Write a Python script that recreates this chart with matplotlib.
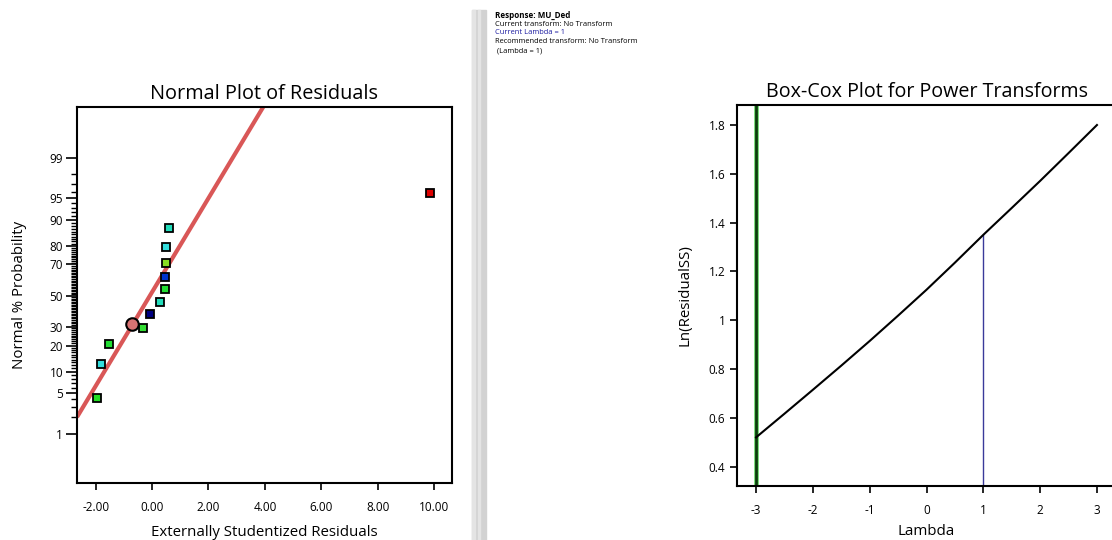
import numpy as np
import matplotlib
matplotlib.use("Agg")
import matplotlib.pyplot as plt
from matplotlib.patches import Rectangle
from statistics import NormalDist

plt.rcParams['font.family'] = ['Open Sans', 'DejaVu Sans']
plt.rcParams['axes.unicode_minus'] = False

# normal plot of residuals
resid = [-1.95, -1.81, -1.51, -0.33, -0.08, 0.29, 0.45, 0.45, 0.50, 0.48, 0.60, 9.86]
prob = [4.2, 12.6, 20.9, 29.3, 37.7, 45.6, 54.3, 62.6, 70.8, 79.3, 87.4, 95.8]
colors = ['#22dd22', '#33dddd', '#22dd33', '#33dd33', '#000080', '#22ddbb',
          '#22dd33', '#0033cc', '#88dd22', '#33dddd', '#22ddbb', '#dd0000']
circle_x, circle_p = -0.70, 31.7
line_mu, line_sigma = -0.074, 1.262
prob_ticks = [1, 5, 10, 20, 30, 50, 70, 80, 90, 95, 99]
resid_ticks = [-2, 0, 2, 4, 6, 8, 10]

# box-cox
lam = [-3, -2.5, -2, -1.5, -1, -0.5, 0, 0.5, 1, 1.5, 2, 2.5, 3]
ln_ss = [0.52, 0.617, 0.715, 0.814, 0.915, 1.019, 1.125, 1.236, 1.35, 1.46, 1.571, 1.685, 1.80]
lam_current = 1
lam_low = -3

info_lines = ["Response: MU_Ded", "Current transform: No Transform", "Current Lambda = 1",
              "Recommended transform: No Transform", " (Lambda = 1)"]


def z(p):
    return NormalDist().inv_cdf(p / 100.0)


W, H = 1112, 540
fig = plt.figure(figsize=(W / 100, H / 100), dpi=100)

# ---- left panel
ax = fig.add_axes([77 / W, 1 - 483 / H, (452 - 77) / W, (483 - 107) / H])
xl = (-2.66, 10.63)
ax.set_xlim(*xl)
ax.set_ylim(-3.16, 3.18)
xs = np.array(xl)
ax.plot(xs, (xs - line_mu) / line_sigma, color='#d95757', lw=3.0, zorder=2, solid_capstyle='butt')
for x, p, c in zip(resid, prob, colors):
    ax.plot(x, z(p), 's', ms=5.5, mfc=c, mec='black', mew=1.3, zorder=3)
ax.plot(circle_x, z(circle_p), 'o', ms=9, mfc='#d87272', mec='black', mew=1.5, zorder=4)

ax.set_yticks([z(p) for p in prob_ticks])
ax.set_yticklabels([str(p) for p in prob_ticks])
ax.set_yticks([z(p) for p in range(1, 100) if p not in prob_ticks], minor=True)
ax.set_xticks(resid_ticks)
ax.set_xticklabels(['%.2f' % v for v in resid_ticks])
ax.tick_params(axis='y', which='major', direction='out', length=8, width=1.2, labelsize=8.5, pad=2)
ax.tick_params(axis='y', which='minor', direction='out', length=4, width=1.0)
ax.tick_params(axis='x', direction='out', length=5, width=1.2, labelsize=8.5, pad=8)
for s in ax.spines.values():
    s.set_linewidth(1.5)
ax.set_title('Normal Plot of Residuals', fontsize=14.3, pad=6)
ax.set_xlabel('Externally Studentized Residuals', fontsize=10.8, labelpad=8)
ax.set_ylabel('Normal % Probability', fontsize=10.8, labelpad=16)

# ---- right panel
bx = fig.add_axes([737.3 / W, 1 - 485.7 / H, (1115.7 - 737.3) / W, (485.7 - 105) / H])
bx.set_xlim(-3.33, 3.33)
bx.set_ylim(0.322, 1.882)
bx.axvline(lam_low, color='#7fdc7f', lw=3.6, zorder=1)
bx.axvline(lam_low, color='#0b3d0b', lw=2.0, zorder=2)
bx.plot([lam_current, lam_current], [0.322, ln_ss[lam.index(lam_current)]], color='#3a3a9a', lw=1.0)
bx.plot(lam, ln_ss, color='black', lw=1.5, zorder=3)
bx.set_xticks(range(-3, 4))
bx.set_yticks([0.4, 0.6, 0.8, 1.0, 1.2, 1.4, 1.6, 1.8])
bx.set_yticklabels(['0.4', '0.6', '0.8', '1', '1.2', '1.4', '1.6', '1.8'])
bx.tick_params(direction='out', length=5, width=1.2, labelsize=8.5)
bx.tick_params(axis='x', pad=8)
for s in bx.spines.values():
    s.set_linewidth(1.5)
bx.set_title('Box-Cox Plot for Power Transforms', fontsize=14.2, pad=6)
bx.set_xlabel('Lambda', fontsize=10.8, labelpad=5)
bx.set_ylabel('Ln(ResidualSS)', fontsize=10.8, labelpad=12)

# ---- separator and info text
fig.patches.append(Rectangle((472 / W, 0), 14 / W, 1 - 10 / H, transform=fig.transFigure,
                             color='#d2d2d2', zorder=0))
fig.patches.append(Rectangle((472 / W, 0), 2.5 / W, 1 - 10 / H, transform=fig.transFigure,
                             color='#e4e4e4', zorder=0))
fig.patches.append(Rectangle((478 / W, 0), 2 / W, 1 - 10 / H, transform=fig.transFigure,
                             color='#e4e4e4', zorder=0))
for i, t in enumerate(info_lines):
    fig.text(495 / W, 1 - (15 + 9 * i) / H, t, fontsize=5.8 if i == 0 else 5.4, va='center', ha='left',
             color='#1a1aa0' if i == 2 else 'black', weight='bold' if i == 0 else 'normal')

fig.savefig('out.png', dpi=100)
